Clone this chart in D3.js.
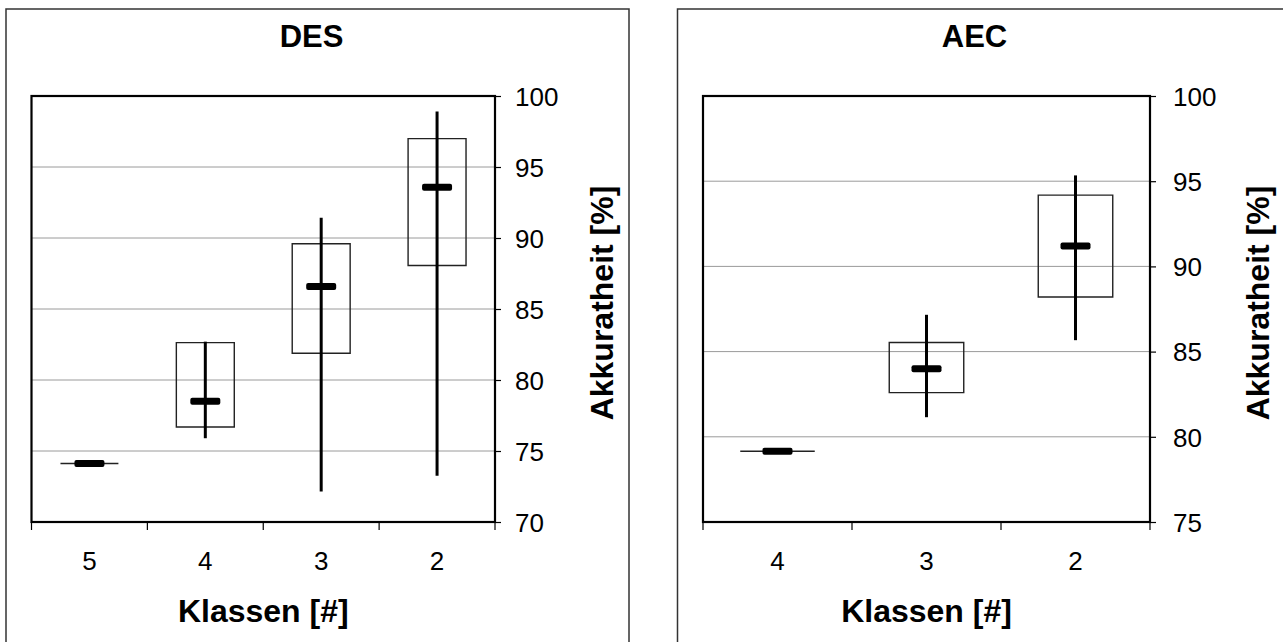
<!DOCTYPE html>
<html>
<head>
<meta charset="utf-8">
<script src="https://cdn.jsdelivr.net/npm/d3@7"></script>
<style>
  html, body { margin: 0; padding: 0; background: #fff; }
  svg { display: block; }
  text { font-family: Arial, "Liberation Sans", sans-serif; fill: #000; }
</style>
</head>
<body>
<svg id="chart" width="1283" height="642"></svg>
<script>
// ---- Data ----
const desCategories = ["5", "4", "3", "2"];
const desMin = [74.12, 75.9, 72.15, 73.25];
const desQ1  = [74.12, 76.69, 81.88, 88.06];
const desMed = [74.12, 78.5, 86.58, 93.57];
const desQ3  = [74.12, 82.63, 89.6, 97.0];
const desMax = [74.12, 82.7, 91.43, 98.9];
const desTicks = [70, 75, 80, 85, 90, 95, 100];

const aecCategories = ["4", "3", "2"];
const aecMin = [79.15, 81.15, 85.67];
const aecQ1  = [79.15, 82.59, 88.2];
const aecMed = [79.15, 84.0, 91.2];
const aecQ3  = [79.15, 85.53, 94.18];
const aecMax = [79.15, 87.16, 95.34];
const aecTicks = [75, 80, 85, 90, 95, 100];

const titles = ["DES", "AEC"];
const xLabel = "Klassen [#]";
const yLabel = "Akkuratheit [%]";

const svg = d3.select("#chart");

function panel(cfg) {
  const g = svg.append("g");
  // outer frame
  g.append("rect")
    .attr("x", cfg.frame[0]).attr("y", cfg.frame[1])
    .attr("width", cfg.frame[2]).attr("height", cfg.frame[3])
    .attr("fill", "none").attr("stroke", "#333").attr("stroke-width", 1.5);

  const x = d3.scaleBand().domain(cfg.cats).range([cfg.x0, cfg.x1]).padding(0);
  const y = d3.scaleLinear().domain([cfg.ticks[0], cfg.ticks[cfg.ticks.length - 1]]).range([cfg.y1, cfg.y0]);

  // gridlines
  g.append("g").selectAll("line").data(cfg.ticks.slice(1, -1)).join("line")
    .attr("x1", cfg.x0).attr("x2", cfg.x1)
    .attr("y1", d => y(d)).attr("y2", d => y(d))
    .attr("stroke", "#9a9a9a").attr("stroke-width", 1);

  // y axis right
  const ya = g.append("g").attr("transform", `translate(${cfg.x1},0)`)
    .call(d3.axisRight(y).tickValues(cfg.ticks).tickSize(6).tickPadding(14).tickFormat(d3.format("d")));
  ya.select(".domain").remove();
  ya.selectAll(".tick line").attr("stroke", "#000").attr("stroke-width", 1.2);
  ya.selectAll(".tick text").attr("font-size", 26).attr("dy", "0.36em").attr("x", cfg.ytx - cfg.x1);

  // x axis: tick marks at band boundaries
  const bounds = cfg.cats.map(c => x(c)).concat([cfg.x1]);
  g.append("g").selectAll("line").data(bounds).join("line")
    .attr("x1", d => d).attr("x2", d => d)
    .attr("y1", cfg.y1).attr("y2", cfg.y1 + 8)
    .attr("stroke", "#000").attr("stroke-width", 1.2);
  const xa = g.append("g").attr("transform", `translate(0,${cfg.y1})`)
    .call(d3.axisBottom(x).tickSize(0).tickPadding(0));
  xa.select(".domain").remove();
  xa.selectAll(".tick text").attr("font-size", 26).attr("dy", null).attr("y", 48);

  const bw = x.bandwidth() / 2;
  const idx = d3.range(cfg.cats.length);
  const cx = i => x(cfg.cats[i]) + x.bandwidth() / 2;
  // boxes (as closed paths so that degenerate boxes still show as a line)
  g.append("g").selectAll("path").data(idx).join("path")
    .attr("d", i => {
      const l = cx(i) - bw / 2, r = cx(i) + bw / 2, t = y(cfg.q3[i]), b = y(cfg.q1[i]);
      return `M${l},${t}H${r}V${b}H${l}Z`;
    })
    .attr("fill", "none").attr("stroke", "#222").attr("stroke-width", 1.4);
  // whiskers
  g.append("g").selectAll("line").data(idx.filter(i => cfg.max[i] > cfg.min[i])).join("line")
    .attr("x1", cx).attr("x2", cx)
    .attr("y1", i => y(cfg.max[i])).attr("y2", i => y(cfg.min[i]))
    .attr("stroke", "#000").attr("stroke-width", 3);
  // medians
  g.append("g").selectAll("rect").data(idx).join("rect")
    .attr("x", i => cx(i) - 15)
    .attr("width", 30)
    .attr("y", i => y(cfg.med[i]) - 3.5)
    .attr("height", 7).attr("rx", 2)
    .attr("fill", "#000");

  // plot border
  g.append("rect")
    .attr("x", cfg.x0).attr("y", cfg.y0)
    .attr("width", cfg.x1 - cfg.x0).attr("height", cfg.y1 - cfg.y0)
    .attr("fill", "none").attr("stroke", "#000").attr("stroke-width", 2.2);

  // titles
  g.append("text").attr("x", cfg.tx).attr("y", 47).attr("text-anchor", "middle")
    .attr("font-size", 31).attr("font-weight", "bold").text(cfg.title);
  g.append("text").attr("x", (cfg.x0 + cfg.x1) / 2).attr("y", 622).attr("text-anchor", "middle")
    .attr("font-size", 32).attr("font-weight", "bold").text(xLabel);
  g.append("text")
    .attr("transform", `translate(${cfg.ylx},${cfg.yly}) rotate(-90)`)
    .attr("text-anchor", "middle").attr("dominant-baseline", "central")
    .attr("font-size", 32).attr("font-weight", "bold").text(yLabel);
}

panel({
  frame: [6, 9, 623, 700], x0: 31.5, x1: 495, y0: 96, y1: 522,
  cats: desCategories, min: desMin, q1: desQ1, med: desMed, q3: desQ3, max: desMax,
  ticks: desTicks, title: titles[0], tx: 311.5, ytx: 515, ylx: 602, yly: 303
});
panel({
  frame: [677.5, 9, 700, 700], x0: 703, x1: 1150, y0: 96, y1: 522,
  cats: aecCategories, min: aecMin, q1: aecQ1, med: aecMed, q3: aecQ3, max: aecMax,
  ticks: aecTicks, title: titles[1], tx: 974.5, ytx: 1173, ylx: 1258, yly: 303
});
</script>
</body>
</html>
